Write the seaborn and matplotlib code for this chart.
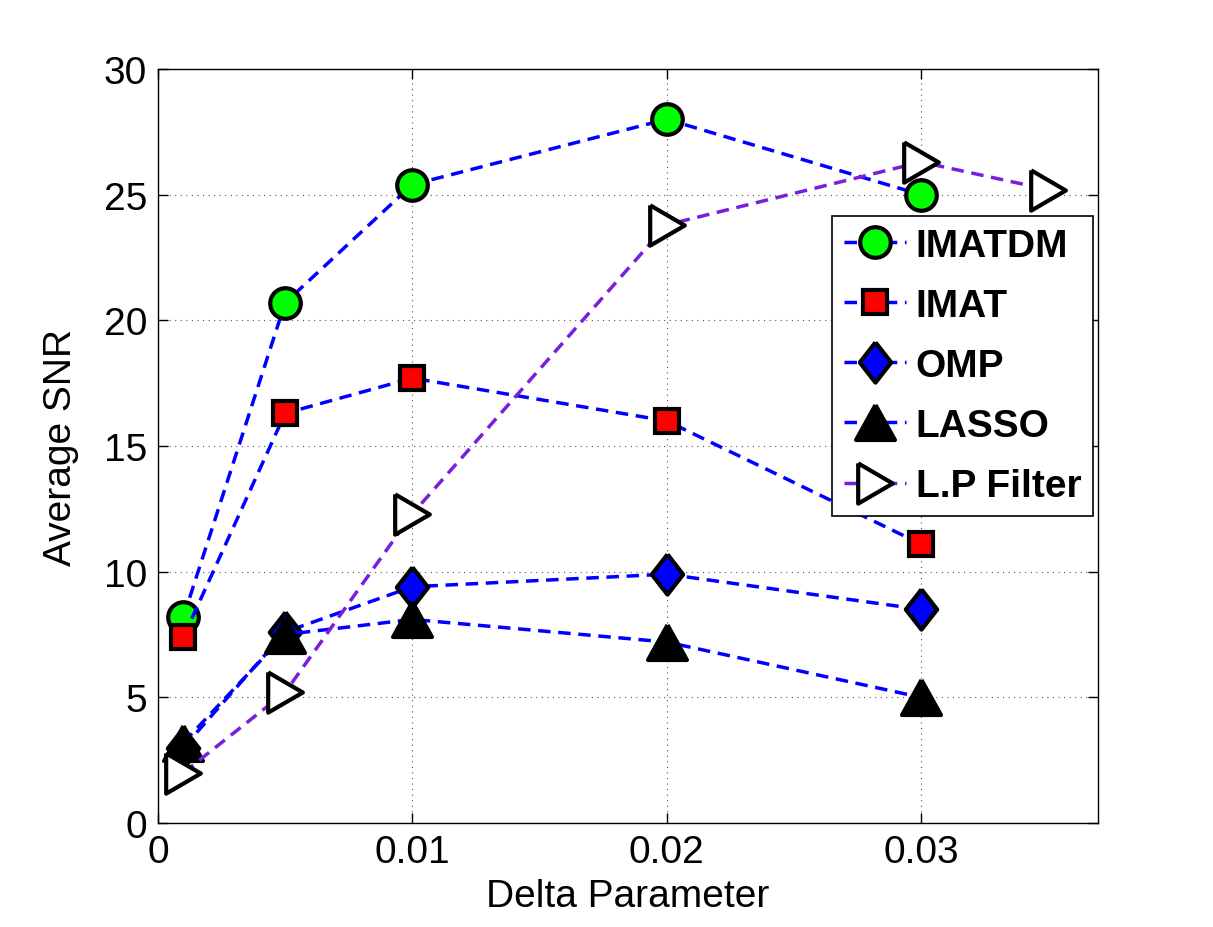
import matplotlib
matplotlib.use("Agg")
import matplotlib.pyplot as plt
import seaborn as sns
import numpy as np
import pandas as pd

# Data
delta = [0.001, 0.005, 0.01, 0.02, 0.03]
delta_lp = [0.001, 0.005, 0.01, 0.02, 0.03, 0.035]
imatdm = [8.2, 20.7, 25.4, 28.0, 25.0]
imat = [7.4, 16.3, 17.7, 16.0, 11.1]
omp = [3.0, 7.6, 9.4, 9.9, 8.5]
lasso = [3.2, 7.5, 8.1, 7.2, 5.0]
lp_filter = [2.0, 5.2, 12.3, 23.8, 26.3, 25.2]
x_ticks = [0, 0.01, 0.02, 0.03]
x_tick_labels = ["0", "0.01", "0.02", "0.03"]
y_ticks = [0, 5, 10, 15, 20, 25, 30]

sns.set_style("white")
plt.rcParams['font.family'] = ['Liberation Sans', 'DejaVu Sans']
plt.rcParams['text.color'] = 'black'
plt.rcParams['axes.labelcolor'] = 'black'
plt.rcParams['xtick.color'] = 'black'
plt.rcParams['ytick.color'] = 'black'

fig = plt.figure(figsize=(12.13, 9.28), dpi=100)
ax = fig.add_axes([158/1213, 1-824/928, (1098-158)/1213, (824-70)/928])

blue = '#0000FF'
purple = '#7A1EDE'
ls = (0, (3.6, 2.2))
lw = 2.5

diamond = [(0, 1), (0.78, 0), (0, -1), (-0.78, 0), (0, 1)]
tri_up = [(0, 0.9), (1, -0.9), (-1, -0.9), (0, 0.9)]
tri_right = [(-0.86, 1), (0.86, 0), (-0.86, -1), (-0.86, 1)]

series = [
    ("IMATDM", delta, imatdm, blue, 'o', '#00FF00', 22),
    ("IMAT", delta, imat, blue, 's', '#FF0000', 17),
    ("OMP", delta, omp, blue, diamond, '#0000FF', 29),
    ("LASSO", delta, lasso, blue, tri_up, '#000000', 28),
    ("L.P Filter", delta_lp, lp_filter, purple, tri_right, '#FFFFFF', 29),
]

for name, xs, ys, col, mk, fc, ms in series:
    df = pd.DataFrame({"x": xs, "y": ys})
    sns.lineplot(data=df, x="x", y="y", ax=ax, color=col, linestyle=ls, linewidth=lw,
                 marker=mk, markerfacecolor=fc, markeredgecolor='k', markeredgewidth=3,
                 markersize=ms, label=name, sort=False)

ax.set_xlim(0, 0.03696)
ax.set_ylim(0, 30)
ax.set_xticks(x_ticks)
ax.set_xticklabels(x_tick_labels)
ax.set_yticks(y_ticks)
ax.tick_params(direction='in', length=7, width=1, labelsize=28, pad=8,
               top=True, right=True, bottom=True, left=True, colors='black')
ax.grid(True, linestyle=(0, (1, 4)), color='#555555', linewidth=0.8)
for s in ax.spines.values():
    s.set_color('k')
    s.set_linewidth(1)
ax.set_xlabel("Delta Parameter", fontsize=28, labelpad=6, color='black')
ax.set_ylabel("Average SNR", fontsize=28, labelpad=18, color='black')

leg = ax.legend(loc='upper right', bbox_to_anchor=(0.9947, 0.805), borderaxespad=0,
                fancybox=False, frameon=True, edgecolor='k', framealpha=1,
                prop={'weight': 'bold', 'size': 28, 'family': ['Liberation Sans']},
                handlelength=1.6, handletextpad=0.25, labelspacing=0.62,
                borderpad=0.3, markerscale=1.0)
leg.get_frame().set_linewidth(1.2)
for t in leg.get_texts():
    t.set_color('black')

fig.savefig("out.png", dpi=100, facecolor='white')
